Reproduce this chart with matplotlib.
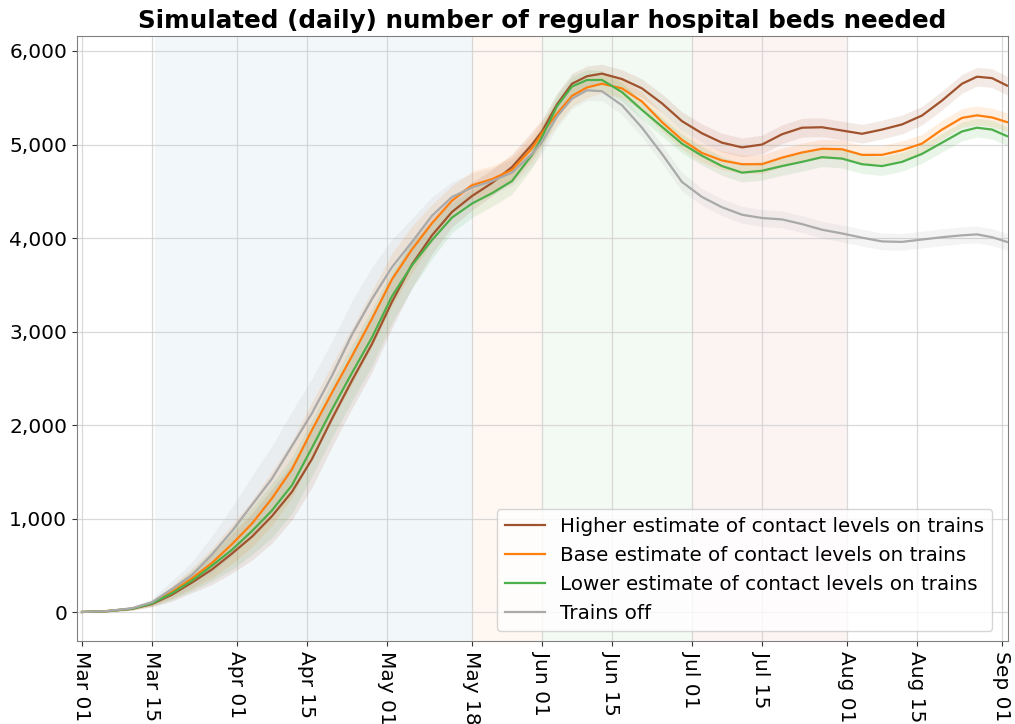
import datetime as dt
import numpy as np
import matplotlib
matplotlib.use("Agg")
import matplotlib.pyplot as plt
import matplotlib.dates as mdates
from matplotlib.ticker import FuncFormatter, MultipleLocator

# ---------------- data ----------------
start_date = "2020-03-01"
day_offsets = [0, 5, 10, 14, 18, 22, 26, 30, 34, 38, 42, 46, 50, 54, 58, 62, 66, 70,
               74, 78, 82, 86, 90, 92, 95, 98, 101, 104, 108, 112, 116, 120, 124,
               128, 132, 136, 140, 144, 148, 152, 156, 160, 164, 168, 172, 176,
               179, 182, 185]

higher = [5, 14, 38, 90, 190, 320, 460, 630, 810, 1030, 1290, 1640, 2070, 2480, 2870,
          3320, 3720, 4030, 4280, 4450, 4590, 4760, 5000, 5140, 5430, 5650, 5730,
          5758, 5700, 5600, 5440, 5250, 5120, 5020, 4970, 5000, 5110, 5180, 5185,
          5150, 5115, 5160, 5215, 5310, 5470, 5650, 5725, 5710, 5630]

base = [5, 15, 42, 100, 220, 365, 530, 730, 950, 1220, 1530, 1950, 2350, 2740, 3140,
        3560, 3880, 4160, 4400, 4565, 4630, 4730, 4960, 5120, 5330, 5520, 5610,
        5650, 5600, 5460, 5240, 5050, 4910, 4830, 4790, 4790, 4860, 4915, 4955,
        4950, 4890, 4890, 4940, 5010, 5160, 5285, 5312, 5290, 5240]

lower = [5, 14, 40, 96, 205, 340, 500, 670, 870, 1090, 1360, 1760, 2170, 2560, 2940,
         3380, 3710, 3980, 4220, 4370, 4480, 4610, 4890, 5080, 5410, 5620, 5690,
         5690, 5560, 5370, 5190, 5010, 4880, 4770, 4700, 4720, 4770, 4815, 4865,
         4850, 4790, 4770, 4815, 4900, 5020, 5140, 5180, 5160, 5090]

trains_off = [5, 15, 45, 110, 250, 400, 620, 870, 1150, 1430, 1780, 2130, 2530, 2970,
              3350, 3690, 3960, 4240, 4440, 4540, 4610, 4700, 4900, 5030, 5300, 5490,
              5580, 5570, 5420, 5180, 4900, 4600, 4440, 4330, 4250, 4215, 4200, 4150,
              4090, 4050, 4005, 3965, 3960, 3985, 4010, 4030, 4040, 4010, 3960]

# half-width of the uncertainty bands
band_half = [3, 8, 15, 30, 70, 110, 160, 210, 250, 290, 300, 300, 300, 300, 300,
             280, 250, 200, 160, 150, 140, 140, 140, 130, 120, 110, 110, 100, 100,
             100, 100, 100, 100, 100, 100, 100, 100, 100, 100, 100, 100, 100, 100,
             100, 100, 100, 100, 100, 100]
band_half_off = [3, 8, 18, 40, 90, 140, 200, 260, 310, 350, 370, 370, 370, 360, 340,
                 300, 250, 200, 160, 150, 140, 140, 140, 130, 120, 110, 110, 100, 100,
                 100, 100, 100, 90, 90, 90, 90, 90, 90, 90, 90, 90, 90, 90, 90, 90,
                 90, 90, 90, 90]

series_labels = ["Higher estimate of contact levels on trains",
                 "Base estimate of contact levels on trains",
                 "Lower estimate of contact levels on trains",
                 "Trains off"]

tick_dates = ["2020-03-01", "2020-03-15", "2020-04-01", "2020-04-15", "2020-05-01",
              "2020-05-18", "2020-06-01", "2020-06-15", "2020-07-01", "2020-07-15",
              "2020-08-01", "2020-08-15", "2020-09-01"]

phase_starts = ["2020-03-15 14:00", "2020-05-18", "2020-06-01", "2020-07-01"]
phase_ends = ["2020-05-18", "2020-06-01", "2020-07-01", "2020-08-01"]

# ---------------- styling ----------------
colors = ["#a0522d", "#ff7f0e", "#4daf4a", "#a9a9a9"]
phase_colors = ["#1f77b4", "#ff7f0e", "#2ca02c", "#d62728"]

t0 = dt.datetime.fromisoformat(start_date)
dates = [t0 + dt.timedelta(days=d) for d in day_offsets]

fig = plt.figure(figsize=(10.15, 7.24), dpi=100)
ax = fig.add_axes([77 / 1015, 1 - 641 / 724, (1008 - 77) / 1015, (641 - 36) / 724])

for s, e, c in zip(phase_starts, phase_ends, phase_colors):
    ax.axvspan(dt.datetime.fromisoformat(s), dt.datetime.fromisoformat(e),
               color=c, alpha=0.055, lw=0, zorder=0)

all_series = [higher, base, lower, trains_off]
halfs = [band_half, band_half, band_half, band_half_off]
for vals, hw, c, lab in zip(all_series, halfs, colors, series_labels):
    v = np.array(vals, dtype=float)
    h = np.array(hw, dtype=float)
    ax.fill_between(dates, v - h, v + h, color=c, alpha=0.12, lw=0, zorder=2)
    ax.plot(dates, v, color=c, lw=1.6, label=lab, zorder=3)

ax.set_xlim(t0 - dt.timedelta(days=1), t0 + dt.timedelta(days=185.2))
ax.set_ylim(-305, 6160)

ax.set_xticks([dt.datetime.fromisoformat(d) for d in tick_dates])
ax.xaxis.set_major_formatter(mdates.DateFormatter("%b %d"))
ax.yaxis.set_major_locator(MultipleLocator(1000))
ax.yaxis.set_major_formatter(FuncFormatter(lambda x, p: f"{x:,.0f}"))
ax.tick_params(axis="x", labelsize=14.5, labelrotation=270, colors="#333333",
               labelcolor="black")
ax.tick_params(axis="y", labelsize=14.5, colors="#333333", labelcolor="black")
ax.grid(True, color="#d0d0d0", lw=0.9, alpha=0.8, zorder=1)
ax.set_axisbelow(True)
for sp in ax.spines.values():
    sp.set_color("#808080")

ax.set_title("Simulated (daily) number of regular hospital beds needed",
             fontsize=17.7, fontweight="bold")
ax.legend(loc="lower right", fontsize=14.3, framealpha=0.8,
          bbox_to_anchor=(0.994, 0.0))

fig.savefig("out.png", dpi=100)
